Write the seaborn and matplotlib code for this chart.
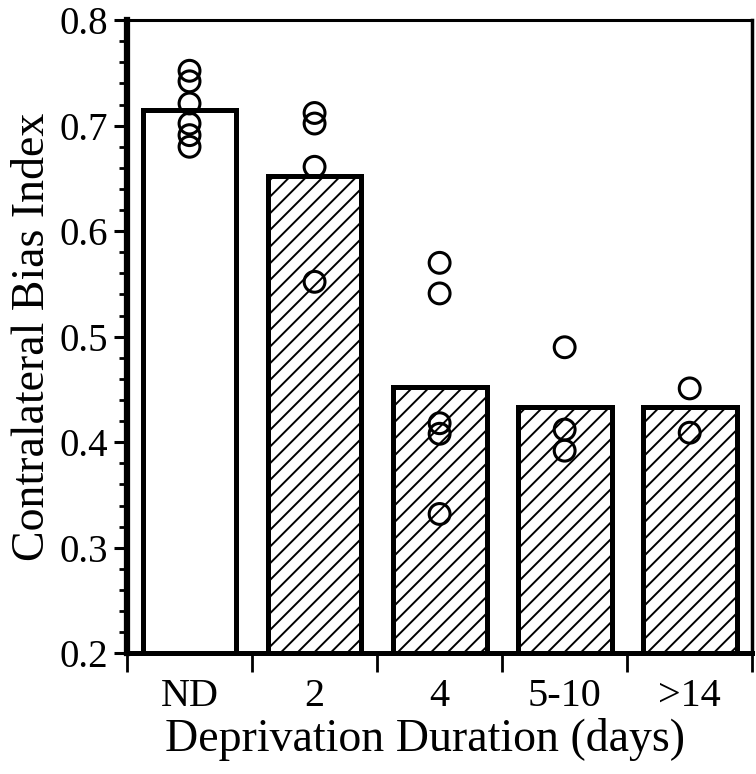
import numpy as np
import pandas as pd
import matplotlib
matplotlib.use("Agg")
import matplotlib.pyplot as plt
from matplotlib.ticker import MultipleLocator, FixedLocator
import seaborn as sns

# bar means per deprivation group
groups = ["ND", "2", "4", "5-10", ">14"]
bar_values = [0.715, 0.652, 0.452, 0.433, 0.433]

# individual animals
nd_points = [0.752, 0.742, 0.721, 0.702, 0.691, 0.680]
d2_points = [0.712, 0.702, 0.661, 0.552]
d4_points = [0.570, 0.541, 0.418, 0.408, 0.332]
d5_10_points = [0.490, 0.412, 0.392]
d14_points = [0.451, 0.409]

sns.set_style("ticks")
plt.rcParams["font.family"] = ["Liberation Serif", "DejaVu Serif"]
plt.rcParams["hatch.linewidth"] = 1.4
plt.rcParams["hatch.color"] = "black"

points = pd.DataFrame({
    "group": (["ND"] * len(nd_points) + ["2"] * len(d2_points) + ["4"] * len(d4_points)
              + ["5-10"] * len(d5_10_points) + [">14"] * len(d14_points)),
    "cbi": nd_points + d2_points + d4_points + d5_10_points + d14_points,
})

fig, ax = plt.subplots(figsize=(7.56, 7.74), dpi=100)
fig.subplots_adjust(left=0.168, right=0.995, bottom=0.156, top=0.974)

sns.barplot(x=groups, y=bar_values, order=groups, width=0.75, color="white",
            edgecolor="black", linewidth=3.6, errorbar=None, ax=ax)
for i, bar in enumerate(ax.patches):
    bar.set_facecolor("white")
    if i > 0:
        bar.set_hatch("//")

n_before = len(ax.collections)
sns.stripplot(data=points, x="group", y="cbi", order=groups, jitter=False,
              size=15, color="black", linewidth=2.2, edgecolor="black", ax=ax, zorder=4)
for coll in ax.collections[n_before:]:
    coll.set_facecolor("none")
    coll.set_edgecolor("black")

ax.set_xlim(-0.5, 4.5)
ax.set_ylim(0.2, 0.8)
ax.yaxis.set_major_locator(MultipleLocator(0.1))
ax.yaxis.set_minor_locator(MultipleLocator(0.02))
ax.set_yticklabels([f"{v:.1f}" for v in ax.get_yticks()])
ax.xaxis.set_minor_locator(FixedLocator(np.arange(-0.5, 5.0, 1.0)))

ax.tick_params(axis="y", which="major", direction="out", length=9.5, width=2.2,
               labelsize=28, pad=4, color="black", labelcolor="black")
ax.tick_params(axis="y", which="minor", direction="out", length=5.5, width=2.0, color="black")
ax.tick_params(axis="x", which="major", length=0, labelsize=29, pad=18, labelcolor="black")
ax.tick_params(axis="x", which="minor", direction="out", length=14, width=2.0, color="black")

for side, lw in [("left", 4.5), ("bottom", 3.6), ("top", 2.2), ("right", 2.5)]:
    ax.spines[side].set_visible(True)
    ax.spines[side].set_linewidth(lw)
    ax.spines[side].set_color("black")

ax.set_xlabel("Deprivation Duration (days)", fontsize=33, labelpad=2, color="black")
ax.xaxis.label.set_x(0.477)
ax.set_ylabel("Contralateral Bias Index", fontsize=33, labelpad=4, color="black")

fig.savefig("out.png", dpi=100)
